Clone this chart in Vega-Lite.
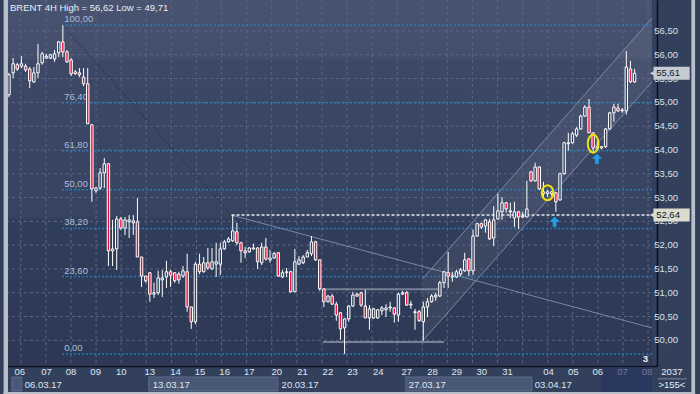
{
  "$schema": "https://vega.github.io/schema/vega-lite/v6.json",
  "width": 654,
  "height": 366,
  "autosize": "none",
  "padding": {"left": 3, "top": 0, "right": 43, "bottom": 28},
  "background": "#33405c",
  "config": {"view": {"stroke": null}, "text": {"font": "Liberation Sans", "fontSize": 9.5}},
  "datasets": {
    "candles": [
      {"i":0,"o":55.16,"h":55.62,"l":55.11,"c":55.58},{"i":1,"o":55.62,"h":55.93,"l":55.51,"c":55.81},{"i":2,"o":55.79,"h":55.83,"l":55.66,"c":55.70},{"i":3,"o":55.76,"h":55.97,"l":55.72,"c":55.81},{"i":4,"o":55.76,"h":55.81,"l":55.64,"c":55.68},{"i":5,"o":55.70,"h":55.74,"l":55.30,"c":55.45},{"i":6,"o":55.43,"h":55.74,"l":55.41,"c":55.62},{"i":7,"o":55.62,"h":56.23,"l":55.51,"c":55.81},{"i":8,"o":55.83,"h":56.06,"l":55.79,"c":56.02},{"i":9,"o":55.93,"h":56.02,"l":55.91,"c":55.97},
      {"i":10,"o":55.93,"h":56.02,"l":55.91,"c":56.00},{"i":11,"o":55.91,"h":56.10,"l":55.85,"c":56.02},{"i":12,"o":56.04,"h":56.29,"l":55.95,"c":56.27},{"i":13,"o":56.27,"h":56.62,"l":55.95,"c":56.06},{"i":14,"o":56.06,"h":56.10,"l":55.83,"c":55.85},{"i":15,"o":55.89,"h":55.93,"l":55.55,"c":55.60},{"i":16,"o":55.60,"h":55.68,"l":55.58,"c":55.64},{"i":17,"o":55.62,"h":55.72,"l":55.53,"c":55.58},{"i":18,"o":55.53,"h":55.72,"l":55.34,"c":55.39},{"i":19,"o":55.39,"h":55.72,"l":54.55,"c":54.55},
      {"i":20,"o":54.53,"h":54.53,"l":52.91,"c":53.18},{"i":21,"o":53.14,"h":53.22,"l":53.10,"c":53.20},{"i":22,"o":53.20,"h":53.62,"l":53.16,"c":53.52},{"i":23,"o":53.52,"h":53.83,"l":53.20,"c":53.71},{"i":24,"o":53.71,"h":53.71,"l":51.56,"c":51.88},{"i":25,"o":51.88,"h":52.53,"l":51.56,"c":51.92},{"i":26,"o":51.92,"h":52.61,"l":51.48,"c":52.55},{"i":27,"o":52.55,"h":52.59,"l":52.32,"c":52.36},{"i":28,"o":52.36,"h":52.59,"l":52.21,"c":52.53},{"i":29,"o":52.49,"h":52.63,"l":52.15,"c":52.53},
      {"i":30,"o":52.47,"h":52.63,"l":52.21,"c":52.51},{"i":31,"o":52.49,"h":52.99,"l":51.75,"c":51.75},{"i":32,"o":51.75,"h":51.75,"l":51.12,"c":51.35},{"i":33,"o":51.35,"h":51.35,"l":51.21,"c":51.25},{"i":34,"o":51.42,"h":51.42,"l":50.81,"c":50.97},{"i":35,"o":50.97,"h":51.21,"l":50.89,"c":51.00},{"i":36,"o":51.00,"h":51.46,"l":50.95,"c":51.31},{"i":37,"o":51.27,"h":51.48,"l":50.91,"c":51.31},{"i":38,"o":51.33,"h":51.67,"l":51.10,"c":51.44},{"i":39,"o":51.44,"h":51.48,"l":51.12,"c":51.37},
      {"i":40,"o":51.42,"h":51.42,"l":51.21,"c":51.25},{"i":41,"o":51.39,"h":51.44,"l":51.19,"c":51.27},{"i":42,"o":51.35,"h":51.56,"l":51.31,"c":51.46},{"i":43,"o":51.44,"h":51.82,"l":50.60,"c":50.70},{"i":44,"o":50.70,"h":50.70,"l":50.24,"c":50.39},{"i":45,"o":50.39,"h":51.65,"l":50.34,"c":51.60},{"i":46,"o":51.60,"h":51.82,"l":51.39,"c":51.44},{"i":47,"o":51.44,"h":51.75,"l":51.42,"c":51.63},{"i":48,"o":51.63,"h":51.94,"l":51.48,"c":51.52},{"i":49,"o":51.50,"h":51.94,"l":51.48,"c":51.65},
      {"i":50,"o":51.60,"h":52.05,"l":51.33,"c":51.65},{"i":51,"o":51.60,"h":52.05,"l":51.37,"c":51.92},{"i":52,"o":51.92,"h":52.11,"l":51.90,"c":52.07},{"i":53,"o":52.07,"h":52.17,"l":52.05,"c":52.13},{"i":54,"o":52.09,"h":52.63,"l":52.07,"c":52.30},{"i":55,"o":52.28,"h":52.47,"l":52.00,"c":52.05},{"i":56,"o":52.05,"h":52.07,"l":51.63,"c":51.88},{"i":57,"o":51.88,"h":51.96,"l":51.73,"c":51.84},{"i":58,"o":51.86,"h":51.96,"l":51.84,"c":51.94},{"i":59,"o":51.92,"h":52.03,"l":51.90,"c":51.94},
      {"i":60,"o":51.94,"h":51.96,"l":51.50,"c":51.65},{"i":61,"o":51.63,"h":52.05,"l":51.58,"c":51.96},{"i":62,"o":51.96,"h":52.15,"l":51.67,"c":51.71},{"i":63,"o":51.69,"h":51.90,"l":51.63,"c":51.73},{"i":64,"o":51.73,"h":51.86,"l":51.71,"c":51.82},{"i":65,"o":51.84,"h":51.84,"l":51.33,"c":51.35},{"i":66,"o":51.33,"h":51.48,"l":51.31,"c":51.42},{"i":67,"o":51.42,"h":51.52,"l":51.33,"c":51.44},{"i":68,"o":51.44,"h":51.46,"l":51.00,"c":51.02},{"i":69,"o":51.02,"h":51.92,"l":51.02,"c":51.65},
      {"i":70,"o":51.60,"h":51.77,"l":51.58,"c":51.69},{"i":71,"o":51.63,"h":51.79,"l":51.60,"c":51.75},{"i":72,"o":51.75,"h":51.90,"l":51.75,"c":51.84},{"i":73,"o":51.82,"h":52.19,"l":51.77,"c":52.07},{"i":74,"o":52.07,"h":52.09,"l":51.67,"c":51.69},{"i":75,"o":51.69,"h":51.69,"l":51.04,"c":51.08},{"i":76,"o":51.08,"h":51.08,"l":50.70,"c":50.81},{"i":77,"o":50.81,"h":50.95,"l":50.79,"c":50.93},{"i":78,"o":50.93,"h":50.97,"l":50.74,"c":50.76},{"i":79,"o":50.76,"h":50.81,"l":50.41,"c":50.53},
      {"i":80,"o":50.58,"h":50.58,"l":50.01,"c":50.24},{"i":81,"o":50.26,"h":50.47,"l":49.71,"c":50.45},{"i":82,"o":50.45,"h":50.74,"l":50.39,"c":50.72},{"i":83,"o":50.72,"h":51.02,"l":50.70,"c":50.95},{"i":84,"o":50.93,"h":51.00,"l":50.91,"c":50.97},{"i":85,"o":51.00,"h":51.02,"l":50.70,"c":50.74},{"i":86,"o":50.72,"h":51.06,"l":50.47,"c":50.47},{"i":87,"o":50.47,"h":50.74,"l":50.22,"c":50.66},{"i":88,"o":50.47,"h":50.68,"l":50.45,"c":50.66},{"i":89,"o":50.47,"h":50.66,"l":50.45,"c":50.64},
      {"i":90,"o":50.62,"h":50.72,"l":50.53,"c":50.68},{"i":91,"o":50.64,"h":50.76,"l":50.49,"c":50.68},{"i":92,"o":50.68,"h":50.81,"l":50.60,"c":50.70},{"i":93,"o":50.68,"h":50.70,"l":50.37,"c":50.55},{"i":94,"o":50.53,"h":51.00,"l":50.39,"c":50.97},{"i":95,"o":50.97,"h":51.04,"l":50.95,"c":51.00},{"i":96,"o":51.00,"h":51.04,"l":50.72,"c":50.74},{"i":97,"o":50.74,"h":50.83,"l":50.66,"c":50.76},{"i":98,"o":50.60,"h":50.66,"l":50.22,"c":50.58},{"i":99,"o":50.60,"h":50.64,"l":50.39,"c":50.41},
      {"i":100,"o":50.39,"h":50.81,"l":49.99,"c":50.70},{"i":101,"o":50.70,"h":50.89,"l":50.49,"c":50.81},{"i":102,"o":50.81,"h":50.97,"l":50.79,"c":50.93},{"i":103,"o":50.91,"h":51.00,"l":50.83,"c":50.95},{"i":104,"o":50.93,"h":51.25,"l":50.91,"c":51.21},{"i":105,"o":51.21,"h":51.46,"l":51.10,"c":51.44},{"i":106,"o":51.42,"h":51.86,"l":51.10,"c":51.35},{"i":107,"o":51.33,"h":51.44,"l":51.23,"c":51.35},{"i":108,"o":51.33,"h":51.48,"l":51.31,"c":51.44},{"i":109,"o":51.39,"h":51.52,"l":51.35,"c":51.48},
      {"i":110,"o":51.46,"h":51.84,"l":51.44,"c":51.69},{"i":111,"o":51.71,"h":51.73,"l":51.35,"c":51.46},{"i":112,"o":51.46,"h":52.32,"l":51.37,"c":52.19},{"i":113,"o":52.19,"h":52.47,"l":52.17,"c":52.45},{"i":114,"o":52.45,"h":52.47,"l":52.34,"c":52.38},{"i":115,"o":52.40,"h":52.55,"l":52.26,"c":52.53},{"i":116,"o":52.49,"h":52.55,"l":52.11,"c":52.13},{"i":117,"o":52.15,"h":52.82,"l":51.98,"c":52.53},{"i":118,"o":52.55,"h":53.08,"l":52.53,"c":52.72},{"i":119,"o":52.70,"h":53.01,"l":52.53,"c":52.89},
      {"i":120,"o":52.89,"h":52.91,"l":52.68,"c":52.76},{"i":121,"o":52.72,"h":52.89,"l":52.57,"c":52.70},{"i":122,"o":52.57,"h":52.91,"l":52.38,"c":52.70},{"i":123,"o":52.70,"h":52.72,"l":52.34,"c":52.59},{"i":124,"o":52.59,"h":52.70,"l":52.57,"c":52.61},{"i":125,"o":52.59,"h":53.35,"l":52.59,"c":52.76},{"i":126,"o":53.54,"h":53.56,"l":53.33,"c":53.35},{"i":127,"o":53.35,"h":53.73,"l":53.33,"c":53.64},{"i":128,"o":53.64,"h":53.66,"l":53.16,"c":53.18},{"i":129,"o":53.12,"h":53.33,"l":53.01,"c":53.08},
      {"i":130,"o":53.08,"h":53.16,"l":53.01,"c":53.12},{"i":131,"o":53.08,"h":53.14,"l":53.03,"c":53.12},{"i":132,"o":53.10,"h":53.12,"l":52.70,"c":52.91},{"i":133,"o":52.95,"h":53.52,"l":52.93,"c":53.50},{"i":134,"o":53.50,"h":54.17,"l":53.48,"c":54.15},{"i":135,"o":54.13,"h":54.36,"l":53.98,"c":54.15},{"i":136,"o":54.15,"h":54.38,"l":54.13,"c":54.34},{"i":137,"o":54.31,"h":54.48,"l":54.27,"c":54.44},{"i":138,"o":54.44,"h":54.74,"l":54.42,"c":54.71},{"i":139,"o":54.71,"h":54.94,"l":54.69,"c":54.90},
      {"i":140,"o":54.90,"h":55.07,"l":54.36,"c":54.36},{"i":141,"o":54.36,"h":54.36,"l":53.96,"c":54.04},{"i":142,"o":54.02,"h":54.19,"l":54.00,"c":54.07},{"i":143,"o":54.04,"h":54.08,"l":54.02,"c":54.07},{"i":144,"o":54.07,"h":54.46,"l":54.04,"c":54.44},{"i":145,"o":54.44,"h":54.80,"l":54.42,"c":54.78},{"i":146,"o":54.78,"h":54.97,"l":54.59,"c":54.90},{"i":147,"o":54.88,"h":54.97,"l":54.80,"c":54.82},{"i":148,"o":54.82,"h":54.88,"l":54.78,"c":54.84},{"i":149,"o":54.82,"h":56.08,"l":54.74,"c":55.74},
      {"i":150,"o":55.70,"h":55.87,"l":55.41,"c":55.43},{"i":151,"o":55.43,"h":55.70,"l":55.41,"c":55.61}
    ],
    "hgrid": [{"p":50,"t":"50,00"},{"p":50.5,"t":"50,50"},{"p":51,"t":"51,00"},{"p":51.5,"t":"51,50"},{"p":52,"t":"52,00"},{"p":52.5,"t":"52,50"},{"p":53,"t":"53,00"},{"p":53.5,"t":"53,50"},{"p":54,"t":"54,00"},{"p":54.5,"t":"54,50"},{"p":55,"t":"55,00"},{"p":55.5,"t":"55,50"},{"p":56,"t":"56,00"},{"p":56.5,"t":"56,50"}],
    "vgrid": [{"i":2.85},{"i":8.91},{"i":14.96},{"i":21.02},{"i":27.07},{"i":33.13},{"i":39.19},{"i":45.24},{"i":51.3},{"i":57.35},{"i":63.41},{"i":69.47},{"i":75.52},{"i":81.58},{"i":87.63},{"i":93.69},{"i":99.75},{"i":105.8},{"i":111.86},{"i":117.91},{"i":123.97},{"i":130.03},{"i":136.08},{"i":142.14},{"i":148.19},{"i":154.25}],
    "fib": [{"t":"100,00","p":56.62},{"t":"76,40","p":54.99},{"t":"61,80","p":53.98},{"t":"50,00","p":53.165},{"t":"38,20","p":52.35},{"t":"23,60","p":51.34},{"t":"0,00","p":49.71}],
    "tlines": [{"a":53.71,"p":52.63,"b":155.2,"q":50.26},{"a":99.82,"p":49.985,"b":155.2,"q":55.43},{"a":99.82,"p":51.29,"b":155.2,"q":56.77}],
    "channel": [{"i":99.82,"lo":49.985,"up":51.29},{"i":155.2,"lo":55.43,"up":56.77}],
    "boxlines": [{"a":75.8,"b":104.1,"p":51.07},{"a":75.8,"b":105.0,"p":49.965}],
    "days": [{"i":2.61,"t":"06"},{"i":9.03,"t":"07"},{"i":14.97,"t":"08"},{"i":20.91,"t":"09"},{"i":27.09,"t":"10"},{"i":33.99,"t":"13"},{"i":40.17,"t":"14"},{"i":46.11,"t":"15"},{"i":52.05,"t":"16"},{"i":57.99,"t":"17"},{"i":64.64,"t":"20"},{"i":70.83,"t":"21"},{"i":76.97,"t":"22"},{"i":82.93,"t":"23"},{"i":89.12,"t":"24"},{"i":96.02,"t":"27"},{"i":102.2,"t":"28"},{"i":108.1,"t":"29"},{"i":114.1,"t":"30"},{"i":120.3,"t":"31"},{"i":130.2,"t":"04"},{"i":136.2,"t":"05"},{"i":142.1,"t":"06"},{"i":148.1,"t":"07"},{"i":154.0,"t":"08"}],
    "weeks": [{"i":3.8,"t":"06.03.17"},{"i":34.7,"t":"13.03.17"},{"i":65.8,"t":"20.03.17"},{"i":96.5,"t":"27.03.17"},{"i":126.9,"t":"03.04.17"}],
    "wboxes": [{"a":0.71,"b":3.09},{"a":33.75,"b":64.88},{"a":95.78,"b":126.2}],
    "pboxes": [{"p":55.61,"t":"55,61"},{"p":52.635,"t":"52,64"}]
  },
  "layer": [
    {
      "data": {"values": [{}]},
      "mark": {"type": "rect", "color": {"gradient": "linear", "x1": 0, "y1": 0, "x2": 0, "y2": 1, "stops": [{"offset": 0, "color": "#47536f"}, {"offset": 0.16, "color": "#424e6b"}, {"offset": 0.165, "color": "#3c4866"}, {"offset": 0.59, "color": "#374461"}, {"offset": 0.6, "color": "#313e5b"}, {"offset": 1, "color": "#2c3854"}]}},
      "encoding": {
        "x": {"datum": -0.24, "type": "quantitative", "scale": {"domain": [-0.24, 155.2], "nice": false, "zero": false}, "axis": {"labels": false, "ticks": false, "grid": false, "domainColor": "#0c0f18", "domainWidth": 1.5, "title": null}},
        "x2": {"datum": 155.2},
        "y": {"datum": 57.15, "type": "quantitative", "scale": {"domain": [49.46, 57.15], "nice": false, "zero": false}, "axis": {"orient": "right", "labels": false, "ticks": false, "domainColor": "#0c0f18", "domainWidth": 1.5, "grid": false, "title": null}},
        "y2": {"datum": 49.46}
      }
    },
    {
      "data": {"name": "channel"},
      "mark": {"type": "area", "color": "#ffffff", "opacity": 0.06, "clip": true},
      "encoding": {"x": {"field": "i", "type": "quantitative", "title": null}, "y": {"field": "lo", "type": "quantitative", "title": null}, "y2": {"field": "up"}}
    },
    {
      "data": {"name": "hgrid"},
      "mark": {"type": "rule", "color": "#5a6682", "strokeDash": [3, 3], "strokeWidth": 1},
      "encoding": {"y": {"field": "p", "type": "quantitative", "title": null}}
    },
    {
      "data": {"name": "hgrid"},
      "mark": {"type": "text", "align": "left", "baseline": "middle", "color": "#d6e2f2", "fontSize": 9.5},
      "encoding": {"x": {"datum": 155.75, "type": "quantitative"}, "y": {"field": "p", "type": "quantitative", "title": null}, "text": {"field": "t"}}
    },
    {
      "data": {"name": "vgrid"},
      "mark": {"type": "rule", "color": "#5a6682", "strokeDash": [3, 3], "strokeWidth": 1},
      "encoding": {"x": {"field": "i", "type": "quantitative", "title": null}}
    },
    {
      "data": {"name": "fib"},
      "mark": {"type": "rule", "color": "#2b7cb6", "strokeDash": [2, 2], "strokeWidth": 1.5},
      "encoding": {"x": {"datum": 12.83, "type": "quantitative"}, "x2": {"datum": 155.2}, "y": {"field": "p", "type": "quantitative", "title": null}}
    },
    {
      "data": {"name": "fib"},
      "mark": {"type": "text", "align": "left", "baseline": "middle", "dy": -6, "color": "#a9bddb", "fontSize": 9.5},
      "encoding": {"x": {"datum": 13.31, "type": "quantitative"}, "y": {"field": "p", "type": "quantitative", "title": null}, "text": {"field": "t"}}
    },
    {
      "data": {"values": [{"a": 13, "p": 56.62, "b": 53.71, "q": 52.63}]},
      "mark": {"type": "rule", "color": "#232b45", "strokeDash": [2, 2], "strokeWidth": 1},
      "encoding": {"x": {"field": "a", "type": "quantitative", "title": null}, "x2": {"field": "b"}, "y": {"field": "p", "type": "quantitative", "title": null}, "y2": {"field": "q"}}
    },
    {
      "data": {"name": "tlines"},
      "mark": {"type": "rule", "color": "#8e99b0", "strokeWidth": 1, "opacity": 0.8, "clip": true},
      "encoding": {"x": {"field": "a", "type": "quantitative", "title": null}, "x2": {"field": "b"}, "y": {"field": "p", "type": "quantitative", "title": null}, "y2": {"field": "q"}}
    },
    {
      "data": {"name": "boxlines"},
      "mark": {"type": "rule", "color": "#8f98ab", "strokeWidth": 2, "opacity": 0.75},
      "encoding": {"x": {"field": "a", "type": "quantitative", "title": null}, "x2": {"field": "b"}, "y": {"field": "p", "type": "quantitative", "title": null}}
    },
    {
      "data": {"values": [{"a": 53.71, "p": 52.635}]},
      "mark": {"type": "rule", "color": "#e6e8ee", "strokeDash": [3, 2], "strokeWidth": 1.5},
      "encoding": {"x": {"field": "a", "type": "quantitative", "title": null}, "x2": {"datum": 155.2}, "y": {"field": "p", "type": "quantitative", "title": null}}
    },
    {
      "data": {"name": "candles"},
      "mark": {"type": "rule", "color": "#ffffff", "strokeWidth": 1, "clip": true},
      "encoding": {"x": {"field": "i", "type": "quantitative", "title": null}, "y": {"field": "l", "type": "quantitative", "title": null}, "y2": {"field": "h"}}
    },
    {
      "data": {"name": "candles"},
      "mark": {"type": "bar", "width": 2.4, "stroke": "#ffffff", "strokeWidth": 1, "clip": true},
      "encoding": {
        "x": {"field": "i", "type": "quantitative", "title": null},
        "y": {"field": "o", "type": "quantitative", "title": null},
        "y2": {"field": "c"},
        "fill": {"condition": {"test": "datum.c < datum.o", "value": "#ea1038"}, "value": "#35425f"}
      }
    },
    {
      "data": {"values": [{"i": 130, "p": 53.1}]},
      "mark": {"type": "point", "shape": "M0,-1 A0.78,1 0 1,1 0,1 A0.78,1 0 1,1 0,-1 Z", "size": 225, "stroke": "#f2e20c", "strokeWidth": 2, "filled": false, "opacity": 1},
      "encoding": {"x": {"field": "i", "type": "quantitative", "title": null}, "y": {"field": "p", "type": "quantitative", "title": null}}
    },
    {
      "data": {"values": [{"i": 141, "p": 54.13}]},
      "mark": {"type": "point", "shape": "M0,-1 A0.6,1 0 1,1 0,1 A0.6,1 0 1,1 0,-1 Z", "size": 324, "stroke": "#f2e20c", "strokeWidth": 2, "filled": false, "opacity": 1},
      "encoding": {"x": {"field": "i", "type": "quantitative", "title": null}, "y": {"field": "p", "type": "quantitative", "title": null}}
    },
    {
      "data": {"values": [{"i": 131.7, "p": 52.486}, {"i": 141.9, "p": 53.81}]},
      "mark": {"type": "point", "shape": "M0,-1 L0.95,-0.05 L0.35,-0.05 L0.35,0.9 L-0.35,0.9 L-0.35,-0.05 L-0.95,-0.05 Z", "size": 110, "filled": true, "color": "#1e9fee", "opacity": 1},
      "encoding": {"x": {"field": "i", "type": "quantitative", "title": null}, "y": {"field": "p", "type": "quantitative", "title": null}}
    },
    {
      "data": {"values": [{"t": "BRENT 4H High = 56,62 Low = 49,71"}]},
      "mark": {"type": "text", "align": "left", "baseline": "middle", "color": "#e8eef7", "fontSize": 9.5},
      "encoding": {"x": {"datum": 0.24, "type": "quantitative"}, "y": {"datum": 56.982, "type": "quantitative"}, "text": {"field": "t"}}
    },
    {
      "data": {"values": [{"t": "3"}]},
      "mark": {"type": "text", "align": "center", "baseline": "middle", "color": "#f2f4f8", "fontSize": 9.5, "fontWeight": "bold"},
      "encoding": {"x": {"datum": 153.6, "type": "quantitative"}, "y": {"datum": 49.607, "type": "quantitative"}, "text": {"field": "t"}}
    },
    {
      "data": {"name": "pboxes"},
      "mark": {"type": "rect", "yOffset": -6.5, "y2Offset": 6.5},
      "encoding": {"x": {"datum": 155.55, "type": "quantitative"}, "x2": {"datum": 164.3}, "y": {"field": "p", "type": "quantitative", "title": null}, "y2": {"field": "p"}, "fill": {"condition": {"test": "datum.p > 54", "value": "#c6cad3"}, "value": "#dcdccd"}}
    },
    {
      "data": {"name": "pboxes"},
      "mark": {"type": "point", "shape": "triangle-left", "size": 60, "filled": true, "opacity": 1},
      "encoding": {"x": {"datum": 155.5, "type": "quantitative"}, "y": {"field": "p", "type": "quantitative", "title": null}, "fill": {"condition": {"test": "datum.p > 54", "value": "#c6cad3"}, "value": "#dcdccd"}}
    },
    {
      "data": {"name": "pboxes"},
      "mark": {"type": "text", "align": "left", "baseline": "middle", "color": "#121620", "fontSize": 9.5},
      "encoding": {"x": {"datum": 156.2, "type": "quantitative"}, "y": {"field": "p", "type": "quantitative", "title": null}, "text": {"field": "t"}}
    },
    {
      "data": {"name": "wboxes"},
      "mark": {"type": "rect", "fill": "#4a5878", "stroke": "#5e6c8b", "strokeWidth": 1},
      "encoding": {"x": {"field": "a", "type": "quantitative", "title": null}, "x2": {"field": "b"}, "y": {"datum": 49.229, "type": "quantitative"}, "y2": {"datum": 48.935}}
    },
    {
      "data": {"values": [{}]},
      "mark": {"type": "rect", "fill": "#2a3860"},
      "encoding": {"x": {"datum": 142.8, "type": "quantitative"}, "x2": {"datum": 155.2}, "y": {"datum": 49.44, "type": "quantitative"}, "y2": {"datum": 48.914}}
    },
    {
      "data": {"name": "days"},
      "mark": {"type": "text", "align": "center", "baseline": "middle", "fontSize": 9.5},
      "encoding": {"x": {"field": "i", "type": "quantitative", "title": null}, "y": {"datum": 49.334, "type": "quantitative"}, "text": {"field": "t"}, "color": {"condition": {"test": "datum.i > 145", "value": "#6f7a94"}, "value": "#dfe6f1"}}
    },
    {
      "data": {"name": "weeks"},
      "mark": {"type": "text", "align": "left", "baseline": "middle", "color": "#dfe6f1", "fontSize": 9.5},
      "encoding": {"x": {"field": "i", "type": "quantitative", "title": null}, "y": {"datum": 49.061, "type": "quantitative"}, "text": {"field": "t"}}
    },
    {
      "data": {"values": [{"t": "2037", "p": 49.334}, {"t": ">155<", "p": 49.061}]},
      "mark": {"type": "text", "align": "center", "baseline": "middle", "color": "#e8eef7", "fontSize": 9.5},
      "encoding": {"x": {"datum": 160.0, "type": "quantitative"}, "y": {"field": "p", "type": "quantitative", "title": null}, "text": {"field": "t"}}
    },
    {
      "data": {"values": [{}]},
      "mark": {"type": "rule", "color": "#7c879e", "strokeWidth": 1},
      "encoding": {"x": {"datum": 156.6, "type": "quantitative"}, "x2": {"datum": 163.6}, "y": {"datum": 49.19, "type": "quantitative"}}
    },
    {
      "data": {"values": [{"a": -1.3, "b": -0.24, "p": 57.2, "q": 48.85}, {"a": 164.7, "b": 165.6, "p": 57.2, "q": 48.85}, {"a": -1.3, "b": 165.6, "p": 48.914, "q": 48.85}]},
      "mark": {"type": "rect", "fill": "#b9bfca"},
      "encoding": {"x": {"field": "a", "type": "quantitative", "title": null}, "x2": {"field": "b"}, "y": {"field": "p", "type": "quantitative", "title": null}, "y2": {"field": "q"}}
    }
  ]
}
